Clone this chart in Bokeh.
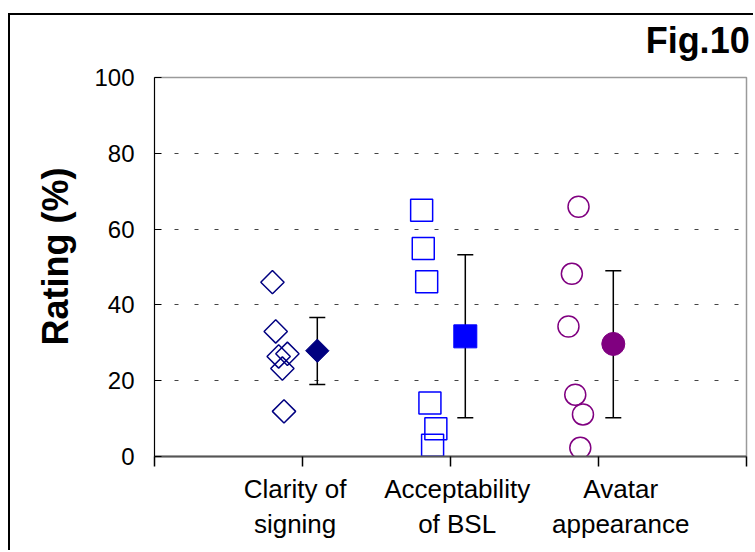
from bokeh.plotting import figure
from bokeh.models import (Range1d, FixedTicker, Whisker, TeeHead, ColumnDataSource,
                          LinearAxis, Title)
from bokeh.embed import file_html
from bokeh.resources import INLINE
import math

# ---------------- data ----------------
CATEGORY_LABELS = ["Clarity of\nsigning", "Acceptability\nof BSL", "Avatar\nappearance"]
Y_TICKS = [0, 20, 40, 60, 80, 100]
FIG_LABEL = "Fig.10"

# individual ratings (x = jittered position on the 0..4 axis, y = rating %)
clarity_x = [0.797, 0.819, 0.839, 0.898, 0.864, 0.875]
clarity_y = [46.0, 33.0, 26.4, 27.1, 23.2, 11.9]

bsl_x = [1.805, 1.816, 1.839, 1.861, 1.901, 1.879]
bsl_y = [65.0, 54.9, 46.1, 14.1, 7.3, 3.0]

avatar_x = [2.865, 2.820, 2.797, 2.843, 2.895, 2.877]
avatar_y = [65.9, 48.2, 34.3, 16.3, 11.1, 2.3]

# means with error bars
mean_x = [1.10, 2.10, 3.10]
mean_y = [27.9, 31.7, 29.7]
err_low = [19.0, 10.2, 10.2]
err_high = [36.7, 53.2, 49.0]

NAVY = "#000080"
BLUE = "#0000FF"
PURPLE = "#800080"
FONT = "Liberation Sans"

# ---------------- figure ----------------
p = figure(width=745, height=537, output_backend="svg", toolbar_location=None,
           x_range=Range1d(0, 4), y_range=Range1d(0, 100))
p.margin = (13, 0, 0, 8)
p.styles = {"border-left": "2px solid black", "border-top": "2px solid black"}
p.min_border = 0
p.min_border_left = 144
p.min_border_right = 9
p.min_border_top = 62
p.min_border_bottom = 96
p.background_fill_color = "white"
p.border_fill_color = "white"
p.outline_line_color = "#9a9a9a"
p.outline_line_width = 1.5
p.title.visible = False

# grid
p.xgrid.visible = False
p.ygrid.ticker = FixedTicker(ticks=[20, 40, 60, 80])
p.ygrid.grid_line_color = "#444444"
p.ygrid.grid_line_dash = "4 16"
p.ygrid.grid_line_width = 1

# y axis
p.yaxis.ticker = FixedTicker(ticks=Y_TICKS)
p.yaxis.major_label_text_font = FONT
p.yaxis.major_label_text_font_size = "24px"
p.yaxis.major_label_text_color = "black"
p.yaxis.major_label_standoff = 20
p.yaxis.major_tick_in = 7
p.yaxis.major_tick_out = 0
p.yaxis.minor_tick_line_color = None
p.yaxis.axis_line_color = "black"
p.yaxis.major_tick_line_color = "black"

# y axis title (as a side title so it can be nudged along the axis)
ylab = Title(text="Rating (%)", align="left", offset=111, standoff=32,
             text_font=FONT, text_font_style="bold", text_font_size="36px",
             text_color="black")
p.add_layout(ylab, "left")

# x axis: tick marks only
p.xaxis.ticker = FixedTicker(ticks=[0, 1, 2, 3, 4])
p.xaxis.major_label_overrides = {0: "", 1: "", 2: "", 3: "", 4: ""}
p.xaxis.major_label_standoff = 0
p.xaxis.major_tick_in = 0
p.xaxis.major_tick_out = 10
p.xaxis.major_tick_line_color = "black"
p.xaxis.major_tick_line_width = 1.5
p.xaxis.minor_tick_line_color = None
p.xaxis.axis_line_color = "#555555"
p.xaxis.axis_line_width = 2

# category text axis (no line, no ticks)
LABEL_X = [0.95, 2.045, 3.15]
cat_axis = LinearAxis(ticker=FixedTicker(ticks=LABEL_X),
                      major_label_overrides=dict(zip(LABEL_X, CATEGORY_LABELS)),
                      axis_line_color=None, major_tick_line_color=None,
                      minor_tick_line_color=None, major_tick_in=0, major_tick_out=0,
                      major_label_standoff=7, major_label_text_font=FONT,
                      major_label_text_font_size="26px",
                      major_label_text_color="black",
                      major_label_text_line_height=1.17)
p.add_layout(cat_axis, "below")

# figure number, as a label-only axis above the plot area
FIG_X = [3.67]
fig_axis = LinearAxis(ticker=FixedTicker(ticks=FIG_X),
                      major_label_overrides={FIG_X[0]: FIG_LABEL},
                      axis_line_color=None, major_tick_line_color=None,
                      minor_tick_line_color=None, major_tick_in=0, major_tick_out=0,
                      major_label_standoff=17, major_label_text_font=FONT,
                      major_label_text_font_style="bold",
                      major_label_text_font_size="36px",
                      major_label_text_color="black")
p.add_layout(fig_axis, "above")

# individual ratings
p.scatter(clarity_x, clarity_y, marker="square", angle=math.pi / 4, size=16.5,
          fill_color=None, line_color=NAVY, line_width=1.5)
p.scatter(bsl_x, bsl_y, marker="square", size=22,
          fill_color=None, line_color=BLUE, line_width=1.5)
p.scatter(avatar_x, avatar_y, marker="circle", size=21,
          fill_color=None, line_color=PURPLE, line_width=1.5)

# error bars
err_src = ColumnDataSource(dict(x=mean_x, lower=err_low, upper=err_high))
whisk = Whisker(base="x", lower="lower", upper="upper", source=err_src,
                dimension="height", line_color="black", line_width=1.5,
                upper_head=TeeHead(size=16, line_color="black", line_width=1.5),
                lower_head=TeeHead(size=16, line_color="black", line_width=1.5))
p.add_layout(whisk)

# means
p.scatter([mean_x[0]], [mean_y[0]], marker="square", angle=math.pi / 4, size=16.5,
          fill_color=NAVY, line_color=NAVY)
p.scatter([mean_x[1]], [mean_y[1]], marker="square", size=23,
          fill_color=BLUE, line_color=BLUE)
p.scatter([mean_x[2]], [mean_y[2]], marker="circle", size=23,
          fill_color=PURPLE, line_color=PURPLE)

open("out.html", "w").write(file_html(p, INLINE))
